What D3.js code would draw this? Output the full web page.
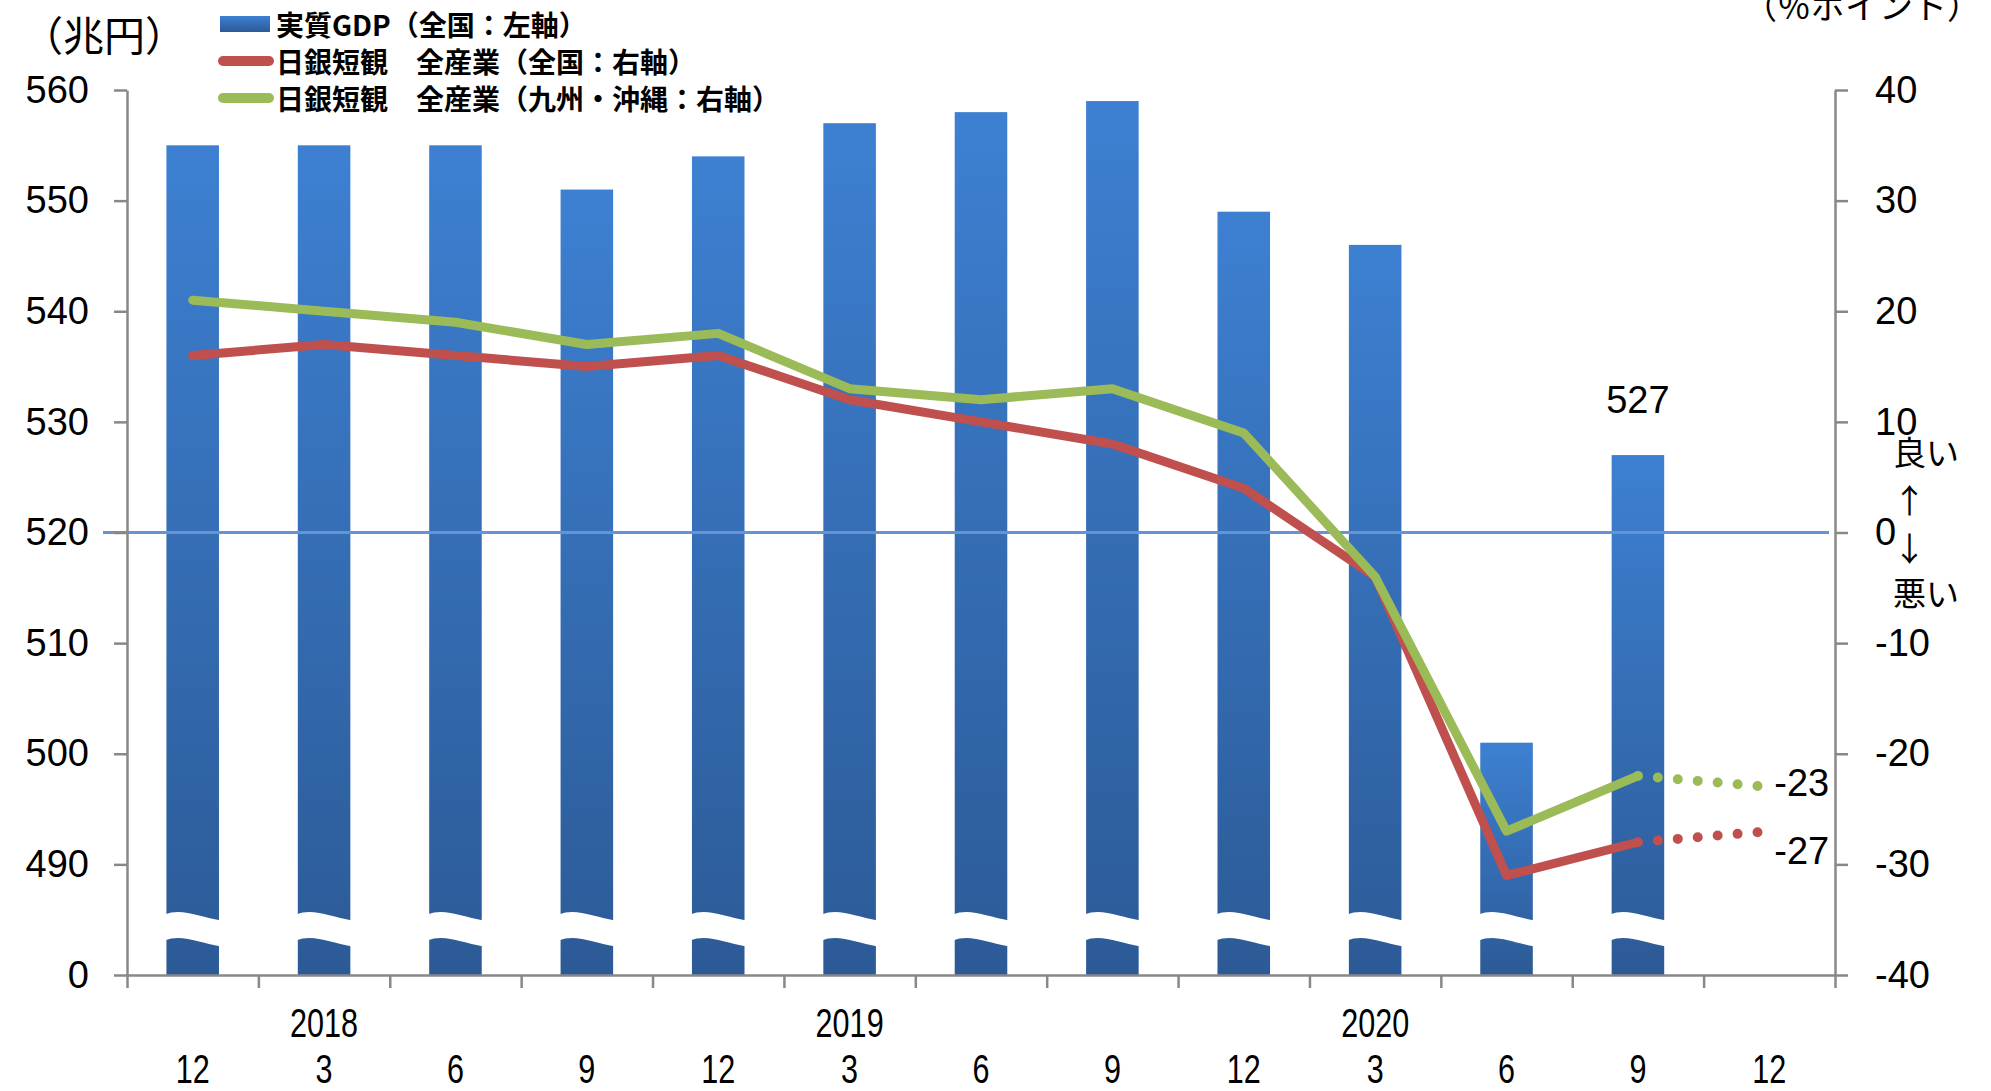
<!DOCTYPE html>
<html>
<head>
<meta charset="utf-8">
<script src="https://cdn.jsdelivr.net/npm/d3@7"></script>
<style>
  body { margin: 0; background: #fff; }
  svg text { font-family: "Liberation Sans", Arial, sans-serif; fill: #000; }
  svg .jp { font-family: "Noto Sans CJK JP", sans-serif; }
</style>
</head>
<body>
<div id="chartArea"></div>
<script>
// data
const categories = ['2017-12', '2018-3', '2018-6', '2018-9', '2018-12', '2019-3', '2019-6',
  '2019-9', '2019-12', '2020-3', '2020-6', '2020-9', '2020-12'];
const monthLabels = ['12', '3', '6', '9', '12', '3', '6', '9', '12', '3', '6', '9', '12'];
const yearLabels = ['2018', '2019', '2020'];
const yearAt = ['2018-3', '2019-3', '2020-3'];

const gdp = [555, 555, 555, 551, 554, 557, 558, 559, 549, 546, 501, 527];
const tankanAll = [16, 17, 16, 15, 16, 12, 10, 8, 4, -4, -31, -28];
const tankanKyushu = [21, 20, 19, 17, 18, 13, 12, 13, 9, -4, -27, -22];
const forecastAll = -27;
const forecastKyushu = -23;

const leftTicks = [480, 490, 500, 510, 520, 530, 540, 550, 560]; // 480 = broken axis base, shown as 0
const rightTicks = [-40, -30, -20, -10, 0, 10, 20, 30, 40];

const svgWidth = 1991;
const svgHeight = 1091;
const plotLeft = 127;
const plotRight = 1835;
const plotTop = 90;
const plotBottom = 975;

const blue = '#3a78c6';
const red = '#c0504d';
const green = '#9bbb59';
const axisColor = '#888888';

const canvas = d3.select('#chartArea')
  .append('svg')
  .attr('width', svgWidth)
  .attr('height', svgHeight);

const defs = canvas.append('defs');
const grad = defs.append('linearGradient')
  .attr('id', 'barGrad')
  .attr('x1', 0).attr('y1', 0).attr('x2', 0).attr('y2', 1);
grad.append('stop').attr('offset', '0%').attr('stop-color', '#3d80d2');
grad.append('stop').attr('offset', '100%').attr('stop-color', '#2c5a96');

// scales
const x = d3.scaleBand()
  .domain(categories)
  .range([plotLeft, plotRight])
  .paddingInner(0.6)
  .paddingOuter(0.3);

const xEdge = d3.scaleLinear()
  .domain([0, categories.length])
  .range([plotLeft, plotRight]);

const yLeft = d3.scaleLinear()
  .domain([480, 560])
  .range([plotBottom, plotTop]);

const yRight = d3.scaleLinear()
  .domain([-40, 40])
  .range([plotBottom, plotTop]);

const cx = (c) => x(c) + x.bandwidth() / 2;

// bars
const gdpData = gdp.map((v, i) => ({ cat: categories[i], value: v }));

canvas.append('g')
  .selectAll('rect')
  .data(gdpData)
  .join('rect')
  .attr('x', d => x(d.cat))
  .attr('y', d => yLeft(d.value))
  .attr('width', x.bandwidth())
  .attr('height', d => yLeft(480) - yLeft(d.value))
  .attr('fill', 'url(#barGrad)');

// break marks (white wavy band across each bar)
const breakY = yLeft(480) - (yLeft(480) - yLeft(490)) * 0.42;
canvas.append('g')
  .selectAll('path')
  .data(gdpData)
  .join('path')
  .attr('d', d => {
    const x0 = x(d.cat) - 2;
    const x1 = x(d.cat) + x.bandwidth() + 2;
    const w = x1 - x0;
    const t = breakY - 14;
    const b = breakY + 12;
    return `M${x0},${t} C${x0 + w * 0.3},${t - 7} ${x0 + w * 0.6},${t + 2} ${x1},${t + 6}` +
      ` L${x1},${b + 6} C${x0 + w * 0.6},${b + 2} ${x0 + w * 0.3},${b - 7} ${x0},${b} Z`;
  })
  .attr('fill', '#fff');

// zero line of right axis
canvas.append('line')
  .attr('x1', 103)
  .attr('x2', plotRight - 6)
  .attr('y1', yRight(0))
  .attr('y2', yRight(0))
  .attr('stroke', '#6494d6')
  .attr('stroke-width', 3);

// axes
const leftAxis = canvas.append('g')
  .attr('transform', `translate(${plotLeft},0)`)
  .call(d3.axisLeft(yLeft).tickValues(leftTicks).tickSize(13).tickSizeOuter(0)
    .tickFormat(d => d === 480 ? '0' : String(d)));

const rightAxis = canvas.append('g')
  .attr('transform', `translate(${plotRight},0)`)
  .call(d3.axisRight(yRight).tickValues(rightTicks).tickSize(13).tickSizeOuter(0)
    .tickFormat(d => String(d)));

const bottomAxis = canvas.append('g')
  .attr('transform', `translate(0,${plotBottom})`)
  .call(d3.axisBottom(xEdge).tickValues(d3.range(categories.length + 1)).tickSize(13)
    .tickSizeOuter(0).tickFormat(''));

[leftAxis, rightAxis, bottomAxis].forEach(g => {
  g.select('.domain').attr('stroke', axisColor).attr('stroke-width', 2.5);
  g.selectAll('.tick line').attr('stroke', axisColor).attr('stroke-width', 2.5);
  g.selectAll('.tick text')
    .attr('font-size', 38)
    .attr('font-family', '"Liberation Sans", Arial, sans-serif')
    .attr('fill', '#000');
});
leftAxis.selectAll('.tick text').attr('x', -38);
rightAxis.selectAll('.tick text').attr('x', 40).attr('text-anchor', 'start');

// month and year labels (narrow, tall lettering)
canvas.append('g')
  .selectAll('text')
  .data(categories)
  .join('text')
  .attr('transform', d => `translate(${cx(d)},1069) scale(0.85,1.12)`)
  .attr('text-anchor', 'middle')
  .attr('dominant-baseline', 'central')
  .attr('font-size', 36)
  .text((d, i) => monthLabels[i]);

canvas.append('g')
  .selectAll('text')
  .data(yearLabels)
  .join('text')
  .attr('transform', (d, i) => `translate(${cx(yearAt[i])},1023) scale(0.85,1.12)`)
  .attr('text-anchor', 'middle')
  .attr('dominant-baseline', 'central')
  .attr('font-size', 36)
  .text(d => d);

// lines
const line = d3.line()
  .x(d => cx(d.cat))
  .y(d => yRight(d.value));

function drawSeries(values, forecast, color) {
  const pts = values.map((v, i) => ({ cat: categories[i], value: v }));
  canvas.append('path')
    .datum(pts)
    .attr('d', line)
    .attr('fill', 'none')
    .attr('stroke', color)
    .attr('stroke-width', 9)
    .attr('stroke-linejoin', 'round')
    .attr('stroke-linecap', 'round');
  const last = pts[pts.length - 1];
  canvas.append('path')
    .datum([last, { cat: categories[categories.length - 1], value: forecast }])
    .attr('d', line)
    .attr('fill', 'none')
    .attr('stroke', color)
    .attr('stroke-width', 10)
    .attr('stroke-linecap', 'round')
    .attr('stroke-dasharray', '0 20')
    .attr('stroke-dashoffset', -20);
}
drawSeries(tankanAll, forecastAll, red);
drawSeries(tankanKyushu, forecastKyushu, green);

// data labels
const lastCat = categories[categories.length - 1];
canvas.append('text')
  .attr('x', cx(categories[gdp.length - 1]))
  .attr('y', yLeft(gdp[gdp.length - 1]) - 55)
  .attr('text-anchor', 'middle')
  .attr('dominant-baseline', 'central')
  .attr('font-size', 38)
  .text(gdp[gdp.length - 1]);

canvas.append('text')
  .attr('x', cx(lastCat) + 5)
  .attr('y', yRight(forecastKyushu) - 4)
  .attr('dominant-baseline', 'central')
  .attr('font-size', 38)
  .text(String(forecastKyushu));

canvas.append('text')
  .attr('x', cx(lastCat) + 5)
  .attr('y', yRight(forecastAll) + 20)
  .attr('dominant-baseline', 'central')
  .attr('font-size', 38)
  .text(String(forecastAll));

// axis titles
canvas.append('text')
  .attr('class', 'jp')
  .attr('x', 22)
  .attr('y', 33)
  .attr('dominant-baseline', 'central')
  .attr('font-size', 41)
  .text('（兆円）');

canvas.append('text')
  .attr('class', 'jp')
  .attr('x', 1743)
  .attr('y', 4)
  .attr('dominant-baseline', 'central')
  .attr('font-size', 34)
  .text('（％ポイント）');

// good / bad annotation
const notes = [
  { text: '良い', y: 451 },
  { text: '↑', y: 499 },
  { text: '↓', y: 547 },
  { text: '悪い', y: 592 }
];
canvas.append('g')
  .selectAll('text')
  .data(notes)
  .join('text')
  .attr('class', 'jp')
  .attr('x', 1893)
  .attr('y', d => d.y)
  .attr('dominant-baseline', 'central')
  .attr('font-size', 33)
  .text(d => d.text);

// legend
const legendItems = [
  { label: '実質GDP（全国：左軸）', type: 'bar', color: blue },
  { label: '日銀短観　全産業（全国：右軸）', type: 'line', color: red },
  { label: '日銀短観　全産業（九州・沖縄：右軸）', type: 'line', color: green }
];
const legend = canvas.append('g');
legendItems.forEach((item, i) => {
  const ly = 24 + i * 37;
  if (item.type === 'bar') {
    legend.append('rect')
      .attr('x', 220).attr('y', ly - 8)
      .attr('width', 50).attr('height', 16)
      .attr('fill', 'url(#barGrad)');
  } else {
    legend.append('line')
      .attr('x1', 223).attr('x2', 269)
      .attr('y1', ly).attr('y2', ly)
      .attr('stroke', item.color)
      .attr('stroke-width', 10)
      .attr('stroke-linecap', 'round');
  }
  legend.append('text')
    .attr('class', 'jp')
    .attr('x', 276)
    .attr('y', ly)
    .attr('dominant-baseline', 'central')
    .attr('font-size', 28)
    .attr('font-weight', 'bold')
    .text(item.label);
});
</script>
</body>
</html>
